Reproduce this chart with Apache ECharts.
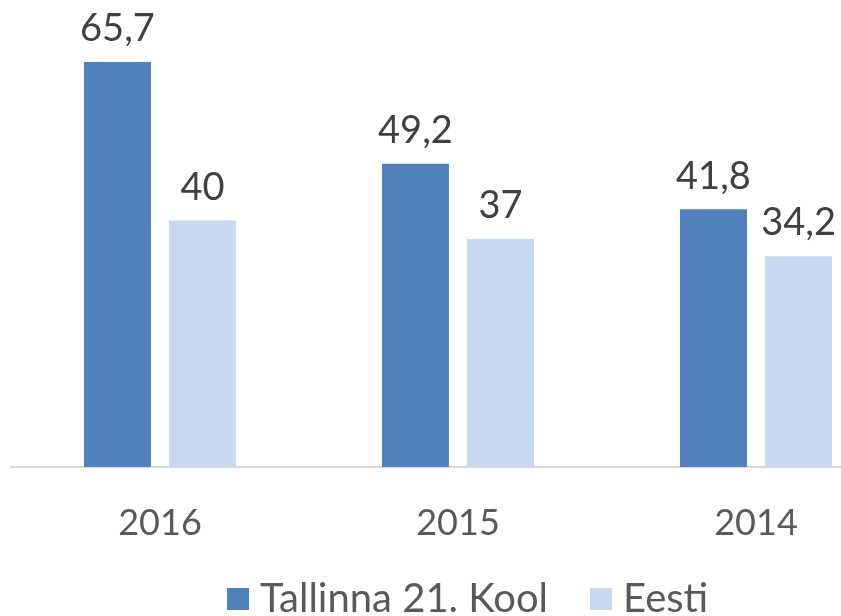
<!DOCTYPE html>
<html>
<head>
<meta charset="utf-8">
<script src="https://cdn.jsdelivr.net/npm/echarts@6/dist/echarts.min.js"></script>
<style>
  html, body { margin: 0; padding: 0; background: #fff; overflow: hidden; }
  /* the plot runs past the right edge of the picture, as in the source */
  #chart { width: 905px; height: 616px; }
</style>
</head>
<body>
<div id="chart"></div>
<script>
const years = ["2016", "2015", "2014"];
const schoolValues = [65.7, 49.2, 41.8];
const estoniaValues = [40, 37, 34.2];
const seriesNames = ["Tallinna 21. Kool", "Eesti"];

const chart = echarts.init(document.getElementById("chart"));

const commaLabel = (p) => String(p.value).replace(".", ",");

chart.setOption({
  animation: false,
  textStyle: { fontFamily: "Lato" },
  grid: { left: 11, right: 0, top: 35.5, bottom: 149 },
  legend: {
    top: 574,
    left: 222,
    itemWidth: 22,
    itemHeight: 22,
    itemGap: 42,
    icon: "rect",
    textStyle: {
      fontSize: 40,
      color: "#595959",
      fontFamily: "Lato",
      padding: [0, 0, 0, 6],
    },
    data: seriesNames,
  },
  xAxis: {
    type: "category",
    data: years,
    axisLine: { lineStyle: { color: "#d9d9d9", width: 2 } },
    axisTick: { show: false },
    axisLabel: { fontSize: 36, color: "#595959", margin: 38 },
  },
  yAxis: {
    type: "value",
    min: 0,
    max: 70,
    show: false,
    splitLine: { show: false },
  },
  series: [
    {
      name: seriesNames[0],
      type: "bar",
      data: schoolValues,
      barWidth: 67,
      barGap: "27%",
      itemStyle: { color: "#4f81bd" },
      label: {
        show: true,
        position: "top",
        distance: 14,
        fontSize: 38,
        color: "#404040",
        formatter: commaLabel,
      },
    },
    {
      name: seriesNames[1],
      type: "bar",
      data: estoniaValues,
      barWidth: 67,
      itemStyle: { color: "#c6d9f0" },
      label: {
        show: true,
        position: "top",
        distance: 14,
        fontSize: 38,
        color: "#404040",
        formatter: commaLabel,
      },
    },
  ],
});
</script>
</body>
</html>
